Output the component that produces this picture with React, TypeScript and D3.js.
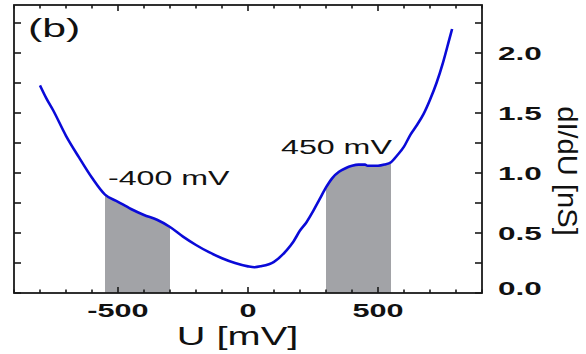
import React from "react";
import * as d3 from "d3";

// Differential conductance dI/dU versus bias U
const biasMv = [
  -800, -775, -750, -700, -650, -600, -550, -500, -450, -400, -350, -300, -250, -200,
  -150, -100, -50, 0, 25, 50, 100, 150, 175, 200, 225, 250, 275, 300, 325, 350, 375, 400,
  425, 450, 460, 475, 500, 525, 550, 575, 600, 625, 650, 675, 700, 725, 750, 775, 785,
];
const conductanceNs = [
  1.73, 1.62, 1.525, 1.31, 1.13, 0.96, 0.82, 0.76, 0.7, 0.65, 0.61, 0.55, 0.47, 0.4,
  0.34, 0.29, 0.25, 0.222, 0.215, 0.223, 0.26, 0.36, 0.43, 0.52, 0.59, 0.68, 0.78, 0.88, 0.96,
  1.01, 1.04, 1.06, 1.07, 1.07, 1.06, 1.06, 1.06, 1.07, 1.09, 1.15, 1.22, 1.32, 1.4,
  1.49, 1.61, 1.75, 1.92, 2.12, 2.2,
];

// Shaded bias windows
const bandStart = [-550, 300];
const bandEnd = [-300, 550];
const bandLabels = ["-400 mV", "450 mV"];

const xTickValues = [-500, 0, 500];
const xTickLabels = ["-500", "0", "500"];
const yTickValues = [0, 0.5, 1.0, 1.5, 2.0];
const yTickLabels = ["0.0", "0.5", "1.0", "1.5", "2.0"];

const W = 586;
const H = 354;
const left = 14;
const right = 482;
const top = 5;
const bottom = 293;

const FONT = "'Liberation Sans', Arial, Helvetica, sans-serif";

export default function App() {
  const x = d3.scaleLinear().domain([-900, 900]).range([left, right]);
  const y = d3.scaleLinear().domain([0, 2.4]).range([bottom, top]);

  const pts = biasMv.map((u, i) => [u, conductanceNs[i]] as [number, number]);
  const line = d3
    .line<[number, number]>()
    .x((d) => x(d[0]))
    .y((d) => y(d[1]))
    .curve(d3.curveMonotoneX);
  const area = d3
    .area<[number, number]>()
    .x((d) => x(d[0]))
    .y0(y(0))
    .y1((d) => y(d[1]))
    .curve(d3.curveMonotoneX);

  const minorX = d3.range(-900, 901, 100);
  const minorY = d3.range(0, 2.41, 0.25);
  const axisColor = "#1a1a1a";

  const labelPos: [number, number][] = [
    [108, 185],
    [281, 154],
  ];

  return (
    <svg
      width={W}
      height={H}
      style={{ position: "absolute", left: 0, top: 0, background: "#fff" }}
    >
      <defs>
        {bandStart.map((s, i) => (
          <clipPath id={`band${i}`} key={i}>
            <rect x={x(s)} y={top} width={x(bandEnd[i]) - x(s)} height={bottom - top} />
          </clipPath>
        ))}
      </defs>

      {bandStart.map((_, i) => (
        <path
          key={i}
          d={area(pts) || ""}
          fill="#a2a3a7"
          clipPath={`url(#band${i})`}
        />
      ))}

      <path
        d={line(pts) || ""}
        fill="none"
        stroke="#0a0ad8"
        strokeWidth={2.6}
        strokeLinejoin="round"
      />

      {/* frame */}
      <rect
        x={left}
        y={top}
        width={right - left}
        height={bottom - top}
        fill="none"
        stroke={axisColor}
        strokeWidth={1.8}
      />

      {/* x ticks, top and bottom, pointing inward */}
      {minorX.map((v) => {
        const major = xTickValues.includes(v);
        const len = major ? 6 : 3.5;
        return (
          <g key={v}>
            <line x1={x(v)} x2={x(v)} y1={bottom} y2={bottom - len} stroke={axisColor} strokeWidth={1.6} />
            <line x1={x(v)} x2={x(v)} y1={top} y2={top + len} stroke={axisColor} strokeWidth={1.6} />
          </g>
        );
      })}

      {/* y ticks, left and right, pointing inward */}
      {minorY.map((v) => (
        <g key={v}>
          <line x1={left} x2={left + 7} y1={y(v)} y2={y(v)} stroke={axisColor} strokeWidth={1.6} />
          <line x1={right} x2={right - 7} y1={y(v)} y2={y(v)} stroke={axisColor} strokeWidth={1.6} />
        </g>
      ))}

      {/* x tick labels */}
      {xTickValues.map((v, i) => (
        <text
          key={v}
          transform={`translate(${x(v)},317) scale(1.75,1)`}
          textAnchor="middle"
          fontFamily={FONT}
          fontWeight="bold"
          fontSize={17.5}
          fill="#111"
        >
          {xTickLabels[i]}
        </text>
      ))}

      {/* y tick labels on the right */}
      {yTickValues.map((v, i) => (
        <text
          key={v}
          transform={`translate(498,${Math.min(y(v) + 6.5, 294.5)}) scale(1.75,1)`}
          textAnchor="start"
          fontFamily={FONT}
          fontWeight="bold"
          fontSize={18}
          fill="#111"
        >
          {yTickLabels[i]}
        </text>
      ))}

      {/* axis titles */}
      <text
        transform={`translate(237.5,345) scale(1.59,1)`}
        textAnchor="middle"
        fontFamily={FONT}
        fontSize={25}
        fill="#111"
      >
        U [mV]
      </text>
      <text
        transform={`translate(558,171) rotate(90) scale(1.06,1)`}
        textAnchor="middle"
        fontFamily={FONT}
        fontSize={27.5}
        fill="#111"
      >
        dI/dU [nS]
      </text>

      {/* panel tag */}
      <text
        transform={`translate(28,37) scale(1.68,1)`}
        fontFamily={FONT}
        fontSize={25.5}
        fill="#111"
      >
        (b)
      </text>

      {/* band labels */}
      {bandLabels.map((t, i) => (
        <text
          key={t}
          transform={`translate(${labelPos[i][0]},${labelPos[i][1]}) scale(1.57,1)`}
          fontFamily={FONT}
          fontSize={20.5}
          fill="#111"
        >
          {t}
        </text>
      ))}
    </svg>
  );
}
